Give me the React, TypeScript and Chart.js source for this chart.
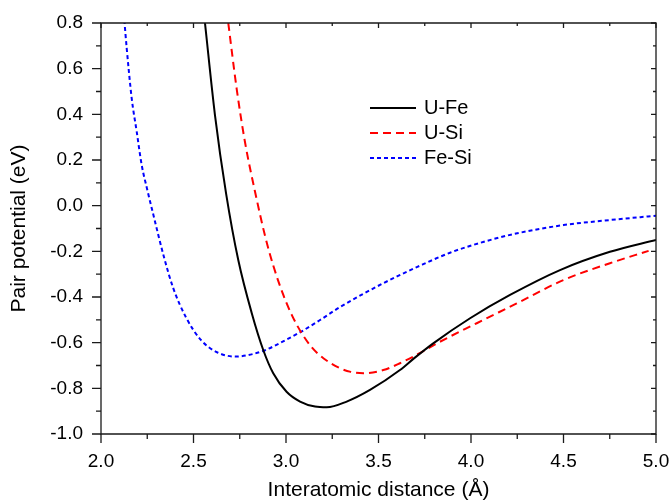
import React, { useEffect, useRef } from "react";
import { Chart, registerables } from "chart.js";

Chart.register(...registerables);

// ---- Data ----
const uFeX = [2.562, 2.616, 2.676, 2.742, 2.815, 2.877, 2.931, 3.003, 3.076, 3.157, 3.22, 3.328, 3.454, 3.616, 3.69, 3.796, 3.995, 4.211, 4.481, 4.751, 5.0];
const uFeY = [0.8, 0.397, 0.054, -0.238, -0.471, -0.632, -0.734, -0.815, -0.858, -0.88, -0.883, -0.858, -0.807, -0.72, -0.67, -0.603, -0.493, -0.391, -0.282, -0.202, -0.15];

const uSiX = [2.688, 2.733, 2.778, 2.841, 2.886, 2.931, 2.985, 3.031, 3.085, 3.139, 3.202, 3.292, 3.35, 3.418, 3.526, 3.616, 3.69, 3.832, 4.031, 4.247, 4.499, 4.751, 4.96];
const uSiY = [0.8, 0.514, 0.28, 0.03, -0.13, -0.262, -0.39, -0.478, -0.559, -0.62, -0.668, -0.712, -0.728, -0.734, -0.72, -0.69, -0.66, -0.596, -0.515, -0.428, -0.326, -0.252, -0.198];

const feSiX = [2.126, 2.139, 2.166, 2.193, 2.22, 2.25, 2.28, 2.34, 2.39, 2.46, 2.54, 2.63, 2.73, 2.82, 2.89, 2.99, 3.09, 3.18, 3.29, 3.42, 3.53, 3.6, 3.71, 3.89, 4.07, 4.25, 4.5, 4.75, 5.0];
const feSiY = [0.813, 0.689, 0.47, 0.324, 0.178, 0.07, -0.03, -0.224, -0.36, -0.49, -0.588, -0.643, -0.661, -0.65, -0.632, -0.592, -0.548, -0.503, -0.445, -0.385, -0.338, -0.31, -0.268, -0.205, -0.158, -0.121, -0.085, -0.063, -0.044];

const seriesLabels = ["U-Fe", "U-Si", "Fe-Si"];
const seriesColors = ["#000000", "#ff0000", "#0000ff"];

const xMajorTicks = [2.0, 2.5, 3.0, 3.5, 4.0, 4.5, 5.0];
const xMinorTicks = [2.25, 2.75, 3.25, 3.75, 4.25, 4.75];
const yMajorTicks = [-1.0, -0.8, -0.6, -0.4, -0.2, 0.0, 0.2, 0.4, 0.6, 0.8];
const yMinorTicks = [-0.9, -0.7, -0.5, -0.3, -0.1, 0.1, 0.3, 0.5, 0.7];

const xTitle = "Interatomic distance (Å)";
const yTitle = "Pair potential (eV)";

const FONT = "'Liberation Sans', Arial, sans-serif";

const toPoints = (xs: number[], ys: number[]) => xs.map((x, i) => ({ x, y: ys[i] }));

const framePlugin = {
  id: "frameTicks",
  afterDraw(chart: any) {
    const { ctx, chartArea } = chart;
    const { left, right, top, bottom } = chartArea;
    const xs = chart.scales.x;
    const ys = chart.scales.y;
    ctx.save();
    ctx.strokeStyle = "#1a1a1a";
    ctx.lineWidth = 1.3;
    ctx.beginPath();
    ctx.rect(left, top, right - left, bottom - top);
    ctx.stroke();
    ctx.beginPath();
    const majorOut = 9, minorOut = 5, majorIn = 5, minorIn = 3;
    xMajorTicks.forEach((v) => {
      const px = xs.getPixelForValue(v);
      ctx.moveTo(px, bottom); ctx.lineTo(px, bottom + majorOut);
      ctx.moveTo(px, top); ctx.lineTo(px, top + majorIn);
    });
    xMinorTicks.forEach((v) => {
      const px = xs.getPixelForValue(v);
      ctx.moveTo(px, bottom); ctx.lineTo(px, bottom + minorOut);
      ctx.moveTo(px, top); ctx.lineTo(px, top + minorIn);
    });
    yMajorTicks.forEach((v) => {
      const py = ys.getPixelForValue(v);
      ctx.moveTo(left, py); ctx.lineTo(left - majorOut, py);
      ctx.moveTo(right, py); ctx.lineTo(right - majorIn, py);
    });
    yMinorTicks.forEach((v) => {
      const py = ys.getPixelForValue(v);
      ctx.moveTo(left, py); ctx.lineTo(left - minorOut, py);
      ctx.moveTo(right, py); ctx.lineTo(right - minorIn, py);
    });
    ctx.stroke();

    // legend
    const lx0 = 370, lx1 = 416, tx = 424;
    const rows = [108, 133, 158];
    chart.data.datasets.forEach((ds: any, i: number) => {
      const y = rows[i];
      ctx.beginPath();
      ctx.strokeStyle = ds.borderColor;
      ctx.lineWidth = ds.borderWidth;
      ctx.setLineDash(ds.borderDash || []);
      ctx.moveTo(lx0, y);
      ctx.lineTo(lx1, y);
      ctx.stroke();
      ctx.setLineDash([]);
      ctx.fillStyle = "#000";
      ctx.font = `20px ${FONT}`;
      ctx.textBaseline = "middle";
      ctx.textAlign = "left";
      ctx.fillText(ds.label, tx, y);
    });
    ctx.restore();
  },
};

export default function App() {
  const ref = useRef<HTMLCanvasElement | null>(null);
  useEffect(() => {
    if (!ref.current) return;
    const chart = new Chart(ref.current, {
      type: "line",
      data: {
        datasets: [
          {
            label: seriesLabels[0],
            data: toPoints(uFeX, uFeY),
            borderColor: seriesColors[0],
            borderWidth: 2,
            pointRadius: 0,
            cubicInterpolationMode: "monotone",
          },
          {
            label: seriesLabels[1],
            data: toPoints(uSiX, uSiY),
            borderColor: seriesColors[1],
            borderWidth: 2,
            borderDash: [8, 5],
            pointRadius: 0,
            cubicInterpolationMode: "monotone",
          },
          {
            label: seriesLabels[2],
            data: toPoints(feSiX, feSiY),
            borderColor: seriesColors[2],
            borderWidth: 2,
            borderDash: [4, 3],
            pointRadius: 0,
            cubicInterpolationMode: "monotone",
          },
        ],
      } as any,
      options: {
        responsive: false,
        animation: false,
        devicePixelRatio: 1,
        layout: { padding: { top: 23, right: 14, left: 0, bottom: 0 } },
        plugins: { legend: { display: false }, tooltip: { enabled: false }, title: { display: false } },
        scales: {
          x: {
            type: "linear",
            min: 2,
            max: 5,
            grid: { display: false, drawTicks: false },
            border: { display: false },
            afterBuildTicks: (s: any) => { s.ticks = xMajorTicks.map((v) => ({ value: v })); },
            afterFit: (s: any) => {
              s.height = 69;
              s.paddingRight = 0;
              s.paddingLeft = 0;
            },
            ticks: {
              padding: 16,
              color: "#000",
              font: { family: FONT, size: 19 },
              maxRotation: 0,
              callback: (v: any) => Number(v).toFixed(1),
            },
            title: {
              display: true,
              text: xTitle,
              color: "#000",
              font: { family: FONT, size: 21 },
              padding: { top: 0, bottom: 0 },
            },
          },
          y: {
            type: "linear",
            min: -1,
            max: 0.8,
            grid: { display: false, drawTicks: false },
            border: { display: false },
            afterBuildTicks: (s: any) => { s.ticks = yMajorTicks.map((v) => ({ value: v })); },
            afterFit: (s: any) => {
              s.width = 101;
              s.paddingTop = 0;
              s.paddingBottom = 0;
            },
            ticks: {
              padding: 18,
              color: "#000",
              font: { family: FONT, size: 19 },
              callback: (v: any) => Number(v).toFixed(1),
            },
            title: {
              display: true,
              text: yTitle,
              color: "#000",
              font: { family: FONT, size: 21 },
              padding: { top: 7, bottom: 0 },
            },
          },
        },
      } as any,
      plugins: [framePlugin],
    });
    return () => chart.destroy();
  }, []);
  return (
    <div style={{ position: "absolute", left: 0, top: 0, width: 670, height: 503, background: "#fff" }}>
      <canvas ref={ref} width={670} height={503} style={{ display: "block" }} />
    </div>
  );
}
